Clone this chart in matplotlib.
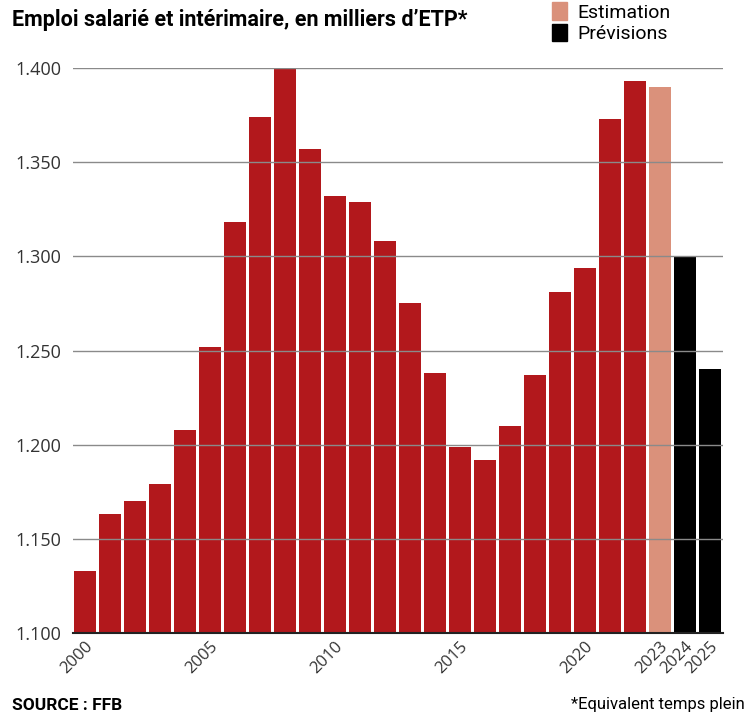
import matplotlib.pyplot as plt
import matplotlib.transforms as mtransforms
from matplotlib.patches import Patch
from matplotlib.ticker import FuncFormatter


years = list(range(2000, 2026))
emploi = [
    1133, 1163, 1170, 1179, 1208, 1252, 1318, 1374, 1400, 1357,
    1332, 1329, 1308, 1275, 1238, 1199, 1192, 1210, 1237, 1281,
    1294, 1373, 1393, 1390, 1300, 1240,
]
statut = ["reel"] * 23 + ["estimation"] + ["prevision"] * 2
tick_years = [2000, 2005, 2010, 2015, 2020, 2023, 2024, 2025]

couleurs = {"reel": "#b2181c", "estimation": "#da917b", "prevision": "#000000"}

fig = plt.figure(figsize=(7.49, 7.15), dpi=100)
ax = fig.add_axes([72.5 / 749, 1 - 633 / 715, 650 / 749, (633 - 68) / 715])

x = list(range(len(years)))
ax.bar(x, emploi, width=0.88, color=[couleurs[s] for s in statut], zorder=2)

ax.set_xlim(-0.5, len(years) - 0.5)
ax.set_ylim(1100, 1400)
ax.set_yticks([1100, 1150, 1200, 1250, 1300, 1350, 1400])
ax.yaxis.set_major_formatter(FuncFormatter(lambda v, p: f"{int(v):,}".replace(",", ".")))
ax.grid(axis="y", color="#8a8a8a", linewidth=1.0, zorder=3)
ax.set_axisbelow(False)

ax.set_xticks([years.index(y) for y in tick_years])
ax.set_xticklabels([str(y) for y in tick_years], rotation=45, ha="right",
                   rotation_mode="anchor", fontsize=12, color="#333333",
                   family="Open Sans")
decalage = mtransforms.ScaledTranslation(9 / 100, -2 / 100, fig.dpi_scale_trans)
for lab in ax.get_xticklabels():
    lab.set_transform(lab.get_transform() + decalage)
for lab in ax.get_yticklabels():
    lab.set_family("Open Sans")
ax.tick_params(axis="y", length=0, pad=8, labelsize=13, labelcolor="#333333")
ax.tick_params(axis="x", length=0, pad=4)

for side in ["top", "right", "left"]:
    ax.spines[side].set_visible(False)
ax.spines["bottom"].set_color("#222222")
ax.spines["bottom"].set_linewidth(1.5)
ax.spines["bottom"].set_zorder(4)

fig.text(12 / 749, 1 - 20 / 715, "Emploi salarié et intérimaire, en milliers d’ETP*",
         fontsize=15.5, fontweight="bold", family="Roboto", va="center", ha="left")

handles = [Patch(color=couleurs["estimation"], label="Estimation"),
           Patch(color=couleurs["prevision"], label="Prévisions")]
fig.legend(handles=handles, loc="upper left", bbox_to_anchor=(534 / 749, 1.021),
           frameon=False, handlelength=0.8, handleheight=1.0, handletextpad=0.55,
           labelspacing=0.1, prop={"family": "Roboto", "size": 14})

fig.text(12 / 749, 1 - 705 / 715, "SOURCE : FFB", fontsize=12.5, fontweight="bold",
         family="Roboto", va="center", ha="left")
fig.text(745 / 749, 1 - 705 / 715, "*Equivalent temps plein", fontsize=12,
         family="Roboto", va="center", ha="right")

fig.savefig("out.png", dpi=100)
